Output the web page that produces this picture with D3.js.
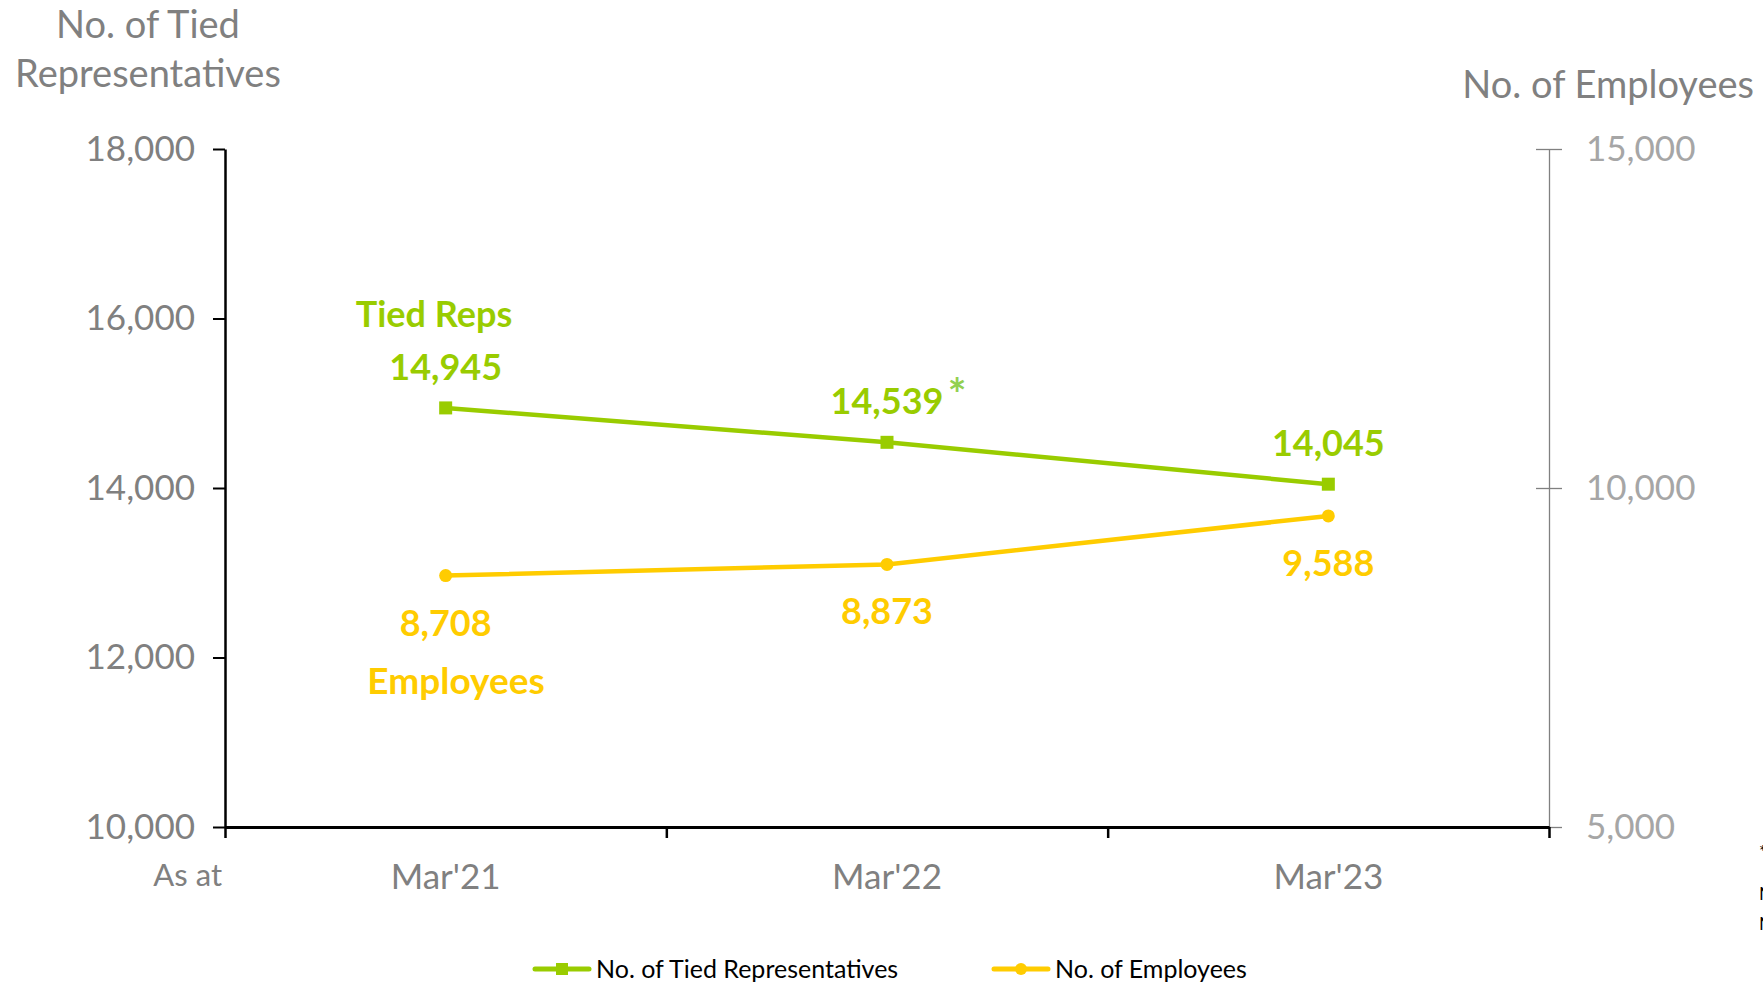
<!DOCTYPE html>
<html>
<head>
<meta charset="utf-8">
<script src="https://cdn.jsdelivr.net/npm/d3@7"></script>
<style>
  body { margin: 0; background: #fff; }
  svg { font-family: Lato, "Open Sans", sans-serif; display: block; }
</style>
</head>
<body>
<div class="chart"></div>
<script>
// data
var periods = ["Mar'21", "Mar'22", "Mar'23"];
var tiedReps = [14945, 14539, 14045];
var employees = [8708, 8873, 9588];
var leftTicks = [10000, 12000, 14000, 16000, 18000];
var rightTicks = [5000, 10000, 15000];
var seriesNames = ["No. of Tied Representatives", "No. of Employees"];

var W = 1763, H = 984;
var green = "#99cc00", yellow = "#ffcc00", grey = "#808080";
var margin = {top: 149, right: 214, bottom: 157, left: 225};

var svg = d3.select(".chart").append("svg")
    .attr("width", W)
    .attr("height", H);

var x = d3.scaleBand()
    .domain(periods)
    .range([margin.left, W - margin.right]);

var yL = d3.scaleLinear()
    .domain([10000, 18000])
    .range([H - margin.bottom, margin.top]);

var yR = d3.scaleLinear()
    .domain([5000, 15000])
    .range([H - margin.bottom, margin.top]);

var fmt = d3.format(",");

// left axis
var gL = svg.append("g")
    .attr("transform", "translate(" + margin.left + ",0)")
    .call(d3.axisLeft(yL).tickValues(leftTicks).tickFormat(fmt).tickSize(12).tickSizeOuter(0).tickPadding(18));
gL.select(".domain").attr("stroke", "#000").attr("stroke-width", 2.5);
gL.selectAll(".tick line").attr("stroke", "#000").attr("stroke-width", 2);
gL.selectAll(".tick text").attr("fill", grey).attr("font-size", 35).attr("font-family", "Lato");

// right axis, ticks cross the line
var gR = svg.append("g")
    .attr("transform", "translate(" + (W - margin.right) + ",0)")
    .call(d3.axisRight(yR).tickValues(rightTicks).tickFormat(fmt).tickSize(13).tickSizeOuter(0).tickPadding(24));
gR.select(".domain").attr("stroke", grey).attr("stroke-width", 1.3);
gR.selectAll(".tick line").attr("x1", -13).attr("stroke", grey).attr("stroke-width", 1.3);
gR.selectAll(".tick text").attr("fill", "#a6a6a6").attr("font-size", 35).attr("font-family", "Lato");

// x axis: boundary ticks
var xb = d3.scaleLinear().domain([0, periods.length]).range(x.range());
var gX = svg.append("g")
    .attr("transform", "translate(0," + (H - margin.bottom) + ")")
    .call(d3.axisBottom(xb).ticks(periods.length).tickSize(11).tickSizeOuter(0).tickFormat(""));
gX.select(".domain").attr("stroke", "#000").attr("stroke-width", 3);
gX.selectAll(".tick line").attr("stroke", "#000").attr("stroke-width", 2.5);

// x labels
var gXL = svg.append("g")
    .attr("transform", "translate(0," + (H - margin.bottom) + ")")
    .call(d3.axisBottom(x).tickSize(0).tickPadding(37));
gXL.select(".domain").remove();
gXL.selectAll(".tick text").attr("fill", grey).attr("font-size", 35).attr("font-family", "Lato");

svg.append("text")
    .attr("x", 222).attr("y", 886)
    .attr("text-anchor", "end")
    .attr("fill", grey).attr("font-size", 31)
    .text("As at");

// axis titles
var titleL = svg.append("text")
    .attr("text-anchor", "middle")
    .attr("fill", grey).attr("font-size", 38);
titleL.append("tspan").attr("x", 148).attr("y", 38).text("No. of Tied");
titleL.append("tspan").attr("x", 148).attr("y", 87).text("Representatives");

svg.append("text")
    .attr("x", 1754).attr("y", 98)
    .attr("text-anchor", "end")
    .attr("fill", grey).attr("font-size", 38)
    .text("No. of Employees");

// lines
var lineL = d3.line()
    .x(function(d, i) { return x(periods[i]) + x.bandwidth() / 2; })
    .y(function(d) { return yL(d); });
var lineR = d3.line()
    .x(function(d, i) { return x(periods[i]) + x.bandwidth() / 2; })
    .y(function(d) { return yR(d); });

svg.append("path").datum(tiedReps)
    .attr("d", lineL).attr("fill", "none")
    .attr("stroke", green).attr("stroke-width", 4.5);
svg.append("path").datum(employees)
    .attr("d", lineR).attr("fill", "none")
    .attr("stroke", yellow).attr("stroke-width", 4.5);

svg.selectAll(".sq").data(tiedReps).enter().append("rect")
    .attr("class", "sq")
    .attr("x", function(d, i) { return x(periods[i]) + x.bandwidth() / 2 - 6.5; })
    .attr("y", function(d) { return yL(d) - 6.5; })
    .attr("width", 13).attr("height", 13)
    .attr("fill", green);

svg.selectAll(".dot").data(employees).enter().append("circle")
    .attr("class", "dot")
    .attr("cx", function(d, i) { return x(periods[i]) + x.bandwidth() / 2; })
    .attr("cy", function(d) { return yR(d); })
    .attr("r", 6.5)
    .attr("fill", yellow);

// data labels
svg.selectAll(".lblL").data(tiedReps).enter().append("text")
    .attr("class", "lblL")
    .attr("x", function(d, i) { return x(periods[i]) + x.bandwidth() / 2; })
    .attr("y", function(d) { return yL(d) - 28; })
    .attr("text-anchor", "middle")
    .attr("fill", green).attr("font-size", 36).attr("font-weight", "bold")
    .text(fmt);

svg.append("text")
    .attr("x", x(periods[1]) + x.bandwidth() / 2 + 70)
    .attr("y", yL(tiedReps[1]) - 32)
    .attr("text-anchor", "middle")
    .attr("fill", "#92d050").attr("font-size", 44).attr("font-weight", "bold")
    .text("*");

svg.selectAll(".lblR").data(employees).enter().append("text")
    .attr("class", "lblR")
    .attr("x", function(d, i) { return x(periods[i]) + x.bandwidth() / 2; })
    .attr("y", function(d) { return yR(d) + 60; })
    .attr("text-anchor", "middle")
    .attr("fill", yellow).attr("font-size", 36).attr("font-weight", "bold")
    .text(fmt);

svg.append("text")
    .attr("x", 434).attr("y", 327)
    .attr("text-anchor", "middle")
    .attr("fill", green).attr("font-size", 36).attr("font-weight", "bold")
    .text("Tied Reps");

svg.append("text")
    .attr("x", 456).attr("y", 694)
    .attr("text-anchor", "middle")
    .attr("fill", yellow).attr("font-size", 37).attr("font-weight", "bold")
    .text("Employees");

// legend
var legend = svg.append("g").attr("transform", "translate(0,969)");
var legendItems = [
  {name: seriesNames[0], color: green, shape: "square", x0: 535},
  {name: seriesNames[1], color: yellow, shape: "circle", x0: 994}
];
legendItems.forEach(function(it) {
  legend.append("line")
      .attr("x1", it.x0).attr("x2", it.x0 + 54)
      .attr("stroke", it.color).attr("stroke-width", 5).attr("stroke-linecap", "round");
  if (it.shape === "square") {
    legend.append("rect").attr("x", it.x0 + 21).attr("y", -6).attr("width", 12).attr("height", 12).attr("fill", it.color);
  } else {
    legend.append("circle").attr("cx", it.x0 + 27).attr("r", 6).attr("fill", it.color);
  }
  legend.append("text")
      .attr("x", it.x0 + 61).attr("y", 9)
      .attr("fill", "#000").attr("font-size", 25)
      .text(it.name);
});

// footnote clipped by the right edge, as in the reference
var foot = svg.append("text").attr("fill", "#000").attr("font-size", 18);
foot.append("tspan").attr("x", 1759).attr("y", 858).text("*");
foot.append("tspan").attr("x", 1759).attr("y", 900).text("Note");
foot.append("tspan").attr("x", 1759).attr("y", 930).text("Note");
</script>
</body>
</html>
